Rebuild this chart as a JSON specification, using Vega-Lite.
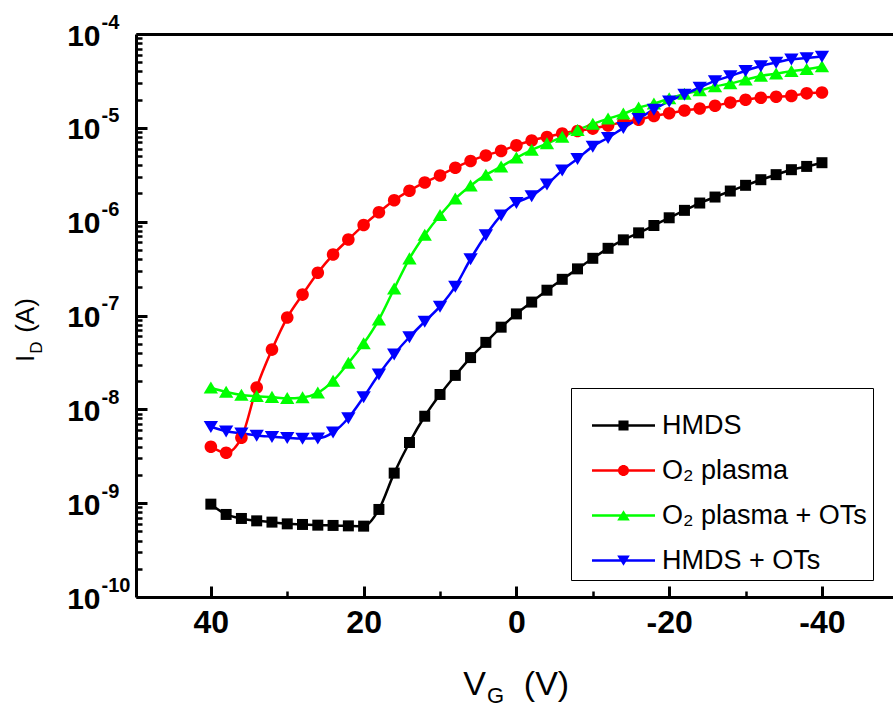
{
"$schema": "https://vega.github.io/schema/vega-lite/v6.json",
"autosize": {"type": "none"},
"padding": {"left": 136, "top": 34, "right": 0, "bottom": 109},
"width": 757,
"height": 563,
"background": "white",
"config": {"view": {"stroke": null}, "font": "Liberation Sans"},
"data": {"values": [
{"s":"HMDS","v":40,"i":9.76e-10},{"s":"HMDS","v":38,"i":7.58e-10},{"s":"HMDS","v":36,"i":6.87e-10},{"s":"HMDS","v":34,"i":6.48e-10},{"s":"HMDS","v":32,"i":6.28e-10},{"s":"HMDS","v":30,"i":6.02e-10},{"s":"HMDS","v":28,"i":5.93e-10},{"s":"HMDS","v":26,"i":5.83e-10},{"s":"HMDS","v":24,"i":5.79e-10},{"s":"HMDS","v":22,"i":5.73e-10},{"s":"HMDS","v":20,"i":5.69e-10},{"s":"HMDS","v":18,"i":8.57e-10},{"s":"HMDS","v":16,"i":2.09e-9},{"s":"HMDS","v":14,"i":4.43e-9},{"s":"HMDS","v":12,"i":8.44e-9},{"s":"HMDS","v":10,"i":1.44e-8},{"s":"HMDS","v":8,"i":2.30e-8},{"s":"HMDS","v":6,"i":3.56e-8},{"s":"HMDS","v":4,"i":5.17e-8},{"s":"HMDS","v":2,"i":7.51e-8},{"s":"HMDS","v":0,"i":1.04e-7},{"s":"HMDS","v":-2,"i":1.39e-7},{"s":"HMDS","v":-4,"i":1.86e-7},{"s":"HMDS","v":-6,"i":2.43e-7},{"s":"HMDS","v":-8,"i":3.14e-7},{"s":"HMDS","v":-10,"i":4.07e-7},{"s":"HMDS","v":-12,"i":5.2e-7},{"s":"HMDS","v":-14,"i":6.4e-7},{"s":"HMDS","v":-16,"i":7.6e-7},{"s":"HMDS","v":-18,"i":9.1e-7},{"s":"HMDS","v":-20,"i":1.10e-6},{"s":"HMDS","v":-22,"i":1.32e-6},{"s":"HMDS","v":-24,"i":1.58e-6},{"s":"HMDS","v":-26,"i":1.83e-6},{"s":"HMDS","v":-28,"i":2.12e-6},{"s":"HMDS","v":-30,"i":2.44e-6},{"s":"HMDS","v":-32,"i":2.80e-6},{"s":"HMDS","v":-34,"i":3.17e-6},{"s":"HMDS","v":-36,"i":3.58e-6},{"s":"HMDS","v":-38,"i":3.88e-6},{"s":"HMDS","v":-40,"i":4.25e-6},
{"s":"O₂ plasma","v":40,"i":4.00e-9},{"s":"O₂ plasma","v":38,"i":3.45e-9},{"s":"O₂ plasma","v":36,"i":4.98e-9},{"s":"O₂ plasma","v":34,"i":1.71e-8},{"s":"O₂ plasma","v":32,"i":4.33e-8},{"s":"O₂ plasma","v":30,"i":9.50e-8},{"s":"O₂ plasma","v":28,"i":1.67e-7},{"s":"O₂ plasma","v":26,"i":2.85e-7},{"s":"O₂ plasma","v":24,"i":4.46e-7},{"s":"O₂ plasma","v":22,"i":6.46e-7},{"s":"O₂ plasma","v":20,"i":9.20e-7},{"s":"O₂ plasma","v":18,"i":1.26e-6},{"s":"O₂ plasma","v":16,"i":1.69e-6},{"s":"O₂ plasma","v":14,"i":2.14e-6},{"s":"O₂ plasma","v":12,"i":2.62e-6},{"s":"O₂ plasma","v":10,"i":3.11e-6},{"s":"O₂ plasma","v":8,"i":3.76e-6},{"s":"O₂ plasma","v":6,"i":4.44e-6},{"s":"O₂ plasma","v":4,"i":5.08e-6},{"s":"O₂ plasma","v":2,"i":5.68e-6},{"s":"O₂ plasma","v":0,"i":6.50e-6},{"s":"O₂ plasma","v":-2,"i":7.34e-6},{"s":"O₂ plasma","v":-4,"i":8.00e-6},{"s":"O₂ plasma","v":-6,"i":8.72e-6},{"s":"O₂ plasma","v":-8,"i":9.27e-6},{"s":"O₂ plasma","v":-10,"i":9.81e-6},{"s":"O₂ plasma","v":-12,"i":1.06e-5},{"s":"O₂ plasma","v":-14,"i":1.15e-5},{"s":"O₂ plasma","v":-16,"i":1.22e-5},{"s":"O₂ plasma","v":-18,"i":1.34e-5},{"s":"O₂ plasma","v":-20,"i":1.43e-5},{"s":"O₂ plasma","v":-22,"i":1.53e-5},{"s":"O₂ plasma","v":-24,"i":1.61e-5},{"s":"O₂ plasma","v":-26,"i":1.72e-5},{"s":"O₂ plasma","v":-28,"i":1.86e-5},{"s":"O₂ plasma","v":-30,"i":1.99e-5},{"s":"O₂ plasma","v":-32,"i":2.09e-5},{"s":"O₂ plasma","v":-34,"i":2.14e-5},{"s":"O₂ plasma","v":-36,"i":2.19e-5},{"s":"O₂ plasma","v":-38,"i":2.33e-5},{"s":"O₂ plasma","v":-40,"i":2.38e-5},
{"s":"O₂ plasma + OTs","v":40,"i":1.70e-8},{"s":"O₂ plasma + OTs","v":38,"i":1.53e-8},{"s":"O₂ plasma + OTs","v":36,"i":1.42e-8},{"s":"O₂ plasma + OTs","v":34,"i":1.38e-8},{"s":"O₂ plasma + OTs","v":32,"i":1.35e-8},{"s":"O₂ plasma + OTs","v":30,"i":1.31e-8},{"s":"O₂ plasma + OTs","v":28,"i":1.34e-8},{"s":"O₂ plasma + OTs","v":26,"i":1.50e-8},{"s":"O₂ plasma + OTs","v":24,"i":2.01e-8},{"s":"O₂ plasma + OTs","v":22,"i":3.12e-8},{"s":"O₂ plasma + OTs","v":20,"i":5.02e-8},{"s":"O₂ plasma + OTs","v":18,"i":9.04e-8},{"s":"O₂ plasma + OTs","v":16,"i":1.93e-7},{"s":"O₂ plasma + OTs","v":14,"i":4.04e-7},{"s":"O₂ plasma + OTs","v":12,"i":7.20e-7},{"s":"O₂ plasma + OTs","v":10,"i":1.17e-6},{"s":"O₂ plasma + OTs","v":8,"i":1.76e-6},{"s":"O₂ plasma + OTs","v":6,"i":2.42e-6},{"s":"O₂ plasma + OTs","v":4,"i":3.15e-6},{"s":"O₂ plasma + OTs","v":2,"i":3.86e-6},{"s":"O₂ plasma + OTs","v":0,"i":4.8e-6},{"s":"O₂ plasma + OTs","v":-2,"i":5.8e-6},{"s":"O₂ plasma + OTs","v":-4,"i":6.8e-6},{"s":"O₂ plasma + OTs","v":-6,"i":8.00e-6},{"s":"O₂ plasma + OTs","v":-8,"i":9.45e-6},{"s":"O₂ plasma + OTs","v":-10,"i":1.10e-5},{"s":"O₂ plasma + OTs","v":-12,"i":1.25e-5},{"s":"O₂ plasma + OTs","v":-14,"i":1.41e-5},{"s":"O₂ plasma + OTs","v":-16,"i":1.64e-5},{"s":"O₂ plasma + OTs","v":-18,"i":1.81e-5},{"s":"O₂ plasma + OTs","v":-20,"i":2.05e-5},{"s":"O₂ plasma + OTs","v":-22,"i":2.30e-5},{"s":"O₂ plasma + OTs","v":-24,"i":2.50e-5},{"s":"O₂ plasma + OTs","v":-26,"i":2.76e-5},{"s":"O₂ plasma + OTs","v":-28,"i":2.97e-5},{"s":"O₂ plasma + OTs","v":-30,"i":3.26e-5},{"s":"O₂ plasma + OTs","v":-32,"i":3.57e-5},{"s":"O₂ plasma + OTs","v":-34,"i":3.77e-5},{"s":"O₂ plasma + OTs","v":-36,"i":4.02e-5},{"s":"O₂ plasma + OTs","v":-38,"i":4.21e-5},{"s":"O₂ plasma + OTs","v":-40,"i":4.51e-5},
{"s":"HMDS + OTs","v":40,"i":6.53e-9},{"s":"HMDS + OTs","v":38,"i":5.85e-9},{"s":"HMDS + OTs","v":36,"i":5.55e-9},{"s":"HMDS + OTs","v":34,"i":5.27e-9},{"s":"HMDS + OTs","v":32,"i":5.11e-9},{"s":"HMDS + OTs","v":30,"i":4.97e-9},{"s":"HMDS + OTs","v":28,"i":4.89e-9},{"s":"HMDS + OTs","v":26,"i":4.92e-9},{"s":"HMDS + OTs","v":24,"i":5.68e-9},{"s":"HMDS + OTs","v":22,"i":8.08e-9},{"s":"HMDS + OTs","v":20,"i":1.35e-8},{"s":"HMDS + OTs","v":18,"i":2.36e-8},{"s":"HMDS + OTs","v":16,"i":3.86e-8},{"s":"HMDS + OTs","v":14,"i":5.90e-8},{"s":"HMDS + OTs","v":12,"i":8.61e-8},{"s":"HMDS + OTs","v":10,"i":1.25e-7},{"s":"HMDS + OTs","v":8,"i":2.04e-7},{"s":"HMDS + OTs","v":6,"i":4.00e-7},{"s":"HMDS + OTs","v":4,"i":7.20e-7},{"s":"HMDS + OTs","v":2,"i":1.17e-6},{"s":"HMDS + OTs","v":0,"i":1.59e-6},{"s":"HMDS + OTs","v":-2,"i":1.88e-6},{"s":"HMDS + OTs","v":-4,"i":2.50e-6},{"s":"HMDS + OTs","v":-6,"i":3.52e-6},{"s":"HMDS + OTs","v":-8,"i":4.69e-6},{"s":"HMDS + OTs","v":-10,"i":6.34e-6},{"s":"HMDS + OTs","v":-12,"i":7.85e-6},{"s":"HMDS + OTs","v":-14,"i":1.00e-5},{"s":"HMDS + OTs","v":-16,"i":1.25e-5},{"s":"HMDS + OTs","v":-18,"i":1.57e-5},{"s":"HMDS + OTs","v":-20,"i":1.92e-5},{"s":"HMDS + OTs","v":-22,"i":2.27e-5},{"s":"HMDS + OTs","v":-24,"i":2.69e-5},{"s":"HMDS + OTs","v":-26,"i":3.16e-5},{"s":"HMDS + OTs","v":-28,"i":3.57e-5},{"s":"HMDS + OTs","v":-30,"i":4.06e-5},{"s":"HMDS + OTs","v":-32,"i":4.56e-5},{"s":"HMDS + OTs","v":-34,"i":4.97e-5},{"s":"HMDS + OTs","v":-36,"i":5.38e-5},{"s":"HMDS + OTs","v":-38,"i":5.55e-5},{"s":"HMDS + OTs","v":-40,"i":5.76e-5}
]},
"resolve": {"scale": {"color": "independent", "shape": "independent"}, "axis": {"x": "independent", "y": "independent"}},
"layer": [
{
"mark": {"type": "line", "strokeWidth": 2.5, "interpolate": "monotone"},
"encoding": {
"x": {"field": "v", "type": "quantitative",
 "scale": {"domain": [49.8, -49.3], "nice": false, "zero": false},
 "axis": {"orient": "bottom", "values": [40, 20, 0, -20, -40], "labelExpr": "'' + datum.value", "grid": false,
  "domain": true, "domainColor": "black", "domainWidth": 3,
  "ticks": true, "tickSize": -11, "tickWidth": 3, "tickColor": "black",
  "labelFont": "Liberation Sans", "labelFontWeight": "bold", "labelFontSize": 32, "labelColor": "black", "labelPadding": 21, "labelBaseline": "top",
  "title": "V", "titleFont": "Liberation Sans", "titleFontSize": 34, "titleFontWeight": "normal", "titleColor": "black", "titleBaseline": "alphabetic", "titleAlign": "center", "titleY": 97, "titleX": 338}},
"y": {"field": "i", "type": "quantitative",
 "scale": {"type": "log", "domain": [1e-10, 1e-4], "nice": false},
 "axis": {"orient": "left", "values": [1e-10, 1e-9, 1e-8, 1e-7, 1e-6, 1e-5, 1e-4], "labelExpr": "'10'", "grid": false,
  "domain": true, "domainColor": "black", "domainWidth": 3,
  "ticks": true, "tickSize": -11, "tickWidth": 3, "tickColor": "black",
  "labelFont": "Liberation Sans", "labelFontWeight": "bold", "labelFontSize": 30, "labelColor": "black", "labelPadding": 47, "labelBaseline": "middle", "labelOffset": 2,
  "title": "I", "titleFont": "Liberation Sans", "titleFontSize": 26, "titleFontWeight": "normal", "titleColor": "black", "titleAngle": 270, "titleBaseline": "middle", "titleAlign": "center", "titleX": -111, "titleY": 324}},
"stroke": {"field": "s", "type": "nominal", "legend": null,
 "scale": {"domain": ["HMDS", "O₂ plasma", "O₂ plasma + OTs", "HMDS + OTs"], "range": ["#000000", "#ff0000", "#00ff00", "#0000ff"]}}
}
},
{
"mark": {"type": "point", "filled": true, "opacity": 1, "size": 8538},
"encoding": {
"x": {"field": "v", "type": "quantitative",
 "axis": {"orient": "top", "grid": false, "domain": true, "domainColor": "black", "domainWidth": 3, "ticks": false, "labels": false,
  "title": "G", "titleFont": "Liberation Sans", "titleFontSize": 22, "titleFontWeight": "normal", "titleColor": "black", "titleBaseline": "alphabetic", "titleAlign": "center", "titleX": 359, "titleY": 668}},
"y": {"field": "i", "type": "quantitative",
 "axis": {"orient": "left", "values": [1e-10, 1e-9, 1e-8, 1e-7, 1e-6, 1e-5, 1e-4], "labelExpr": "'-' + round(-log(datum.value) / LN10)", "grid": false,
  "domain": false, "ticks": false,
  "labelFont": "Liberation Sans", "labelFontWeight": "bold", "labelFontSize": 20, "labelColor": "black", "labelPadding": 35, "labelAlign": "left", "labelBaseline": "middle", "labelOffset": -12,
  "title": "D", "titleFont": "Liberation Sans", "titleFontSize": 17, "titleFontWeight": "normal", "titleColor": "black", "titleAngle": 270, "titleBaseline": "middle", "titleAlign": "center", "titleX": -100, "titleY": 313}},
"color": {"field": "s", "type": "nominal", "legend": null,
 "scale": {"domain": ["HMDS", "O₂ plasma", "O₂ plasma + OTs", "HMDS + OTs"], "range": ["#000000", "#ff0000", "#00ff00", "#0000ff"]}},
"shape": {"field": "s", "type": "nominal", "legend": null,
 "scale": {"domain": ["HMDS", "O₂ plasma", "O₂ plasma + OTs", "HMDS + OTs"],
  "range": ["M-0.119,-0.119H0.119V0.119H-0.119Z",
   "M-0.136,0A0.136,0.136 0 1,1 0.136,0A0.136,0.136 0 1,1 -0.136,0Z",
   "M0,-0.135L0.155,0.125L-0.155,0.125Z",
   "M0,0.135L-0.155,-0.125L0.155,-0.125Z"]}}
}
},
{
"mark": {"type": "point", "opacity": 0},
"encoding": {
"x": {"field": "v", "type": "quantitative",
 "axis": {"orient": "bottom", "values": [30, 10, -10, -30], "grid": false, "domain": false, "labels": false,
  "ticks": true, "tickSize": -6, "tickWidth": 2.5, "tickColor": "black",
  "title": "(V)", "titleFont": "Liberation Sans", "titleFontSize": 34, "titleFontWeight": "normal", "titleColor": "black", "titleBaseline": "alphabetic", "titleAlign": "center", "titleY": 97, "titleX": 410}},
"y": {"field": "i", "type": "quantitative",
 "axis": {"orient": "left", "values": [2e-10,3e-10,4e-10,5e-10,6e-10,7e-10,8e-10,9e-10,2e-9,3e-9,4e-9,5e-9,6e-9,7e-9,8e-9,9e-9,2e-8,3e-8,4e-8,5e-8,6e-8,7e-8,8e-8,9e-8,2e-7,3e-7,4e-7,5e-7,6e-7,7e-7,8e-7,9e-7,2e-6,3e-6,4e-6,5e-6,6e-6,7e-6,8e-6,9e-6,2e-5,3e-5,4e-5,5e-5,6e-5,7e-5,8e-5,9e-5],
  "grid": false, "domain": false, "labels": false,
  "ticks": true, "tickSize": -6, "tickWidth": 2.5, "tickColor": "black",
  "title": "(A)", "titleFont": "Liberation Sans", "titleFontSize": 26, "titleFontWeight": "normal", "titleColor": "black", "titleAngle": 270, "titleBaseline": "middle", "titleAlign": "center", "titleX": -111, "titleY": 281}}
}
},
{
"transform": [{"filter": "false"}],
"mark": {"type": "point", "filled": true},
"encoding": {
"color": {"field": "s", "type": "nominal",
 "scale": {"domain": ["HMDS", "O₂ plasma", "O₂ plasma + OTs", "HMDS + OTs"], "range": ["#000000", "#ff0000", "#00ff00", "#0000ff"]},
 "legend": {"orient": "none", "legendX": 435, "legendY": 354, "title": null, "padding": 6, "strokeColor": "black", "fillColor": "white",
  "symbolSize": 3969, "symbolOffset": 15, "symbolStrokeWidth": 0, "symbolOpacity": 1, "labelOffset": 7,
  "labelFont": "Liberation Sans", "labelFontSize": 27, "labelColor": "black", "labelLimit": 400, "rowPadding": -5}},
"shape": {"field": "s", "type": "nominal",
 "scale": {"domain": ["HMDS", "O₂ plasma", "O₂ plasma + OTs", "HMDS + OTs"],
  "range": ["M-1,-0.04H1V0.04H-1ZM-0.16,-0.16H0.16V0.16H-0.16Z",
   "M-1,-0.04H1V0.04H-1ZM-0.175,0A0.175,0.175 0 1,1 0.175,0A0.175,0.175 0 1,1 -0.175,0Z",
   "M-1,-0.04H1V0.04H-1ZM0,-0.17L0.2,0.16L-0.2,0.16Z",
   "M-1,-0.04H1V0.04H-1ZM0,0.17L-0.2,-0.16L0.2,-0.16Z"]},
 "legend": {"orient": "none", "legendX": 435, "legendY": 354, "title": null, "padding": 6, "strokeColor": "black", "fillColor": "white",
  "symbolSize": 3969, "symbolOffset": 15, "symbolStrokeWidth": 0, "symbolOpacity": 1, "labelOffset": 7,
  "labelFont": "Liberation Sans", "labelFontSize": 27, "labelColor": "black", "labelLimit": 400, "rowPadding": -5}}
}
}
]
}
